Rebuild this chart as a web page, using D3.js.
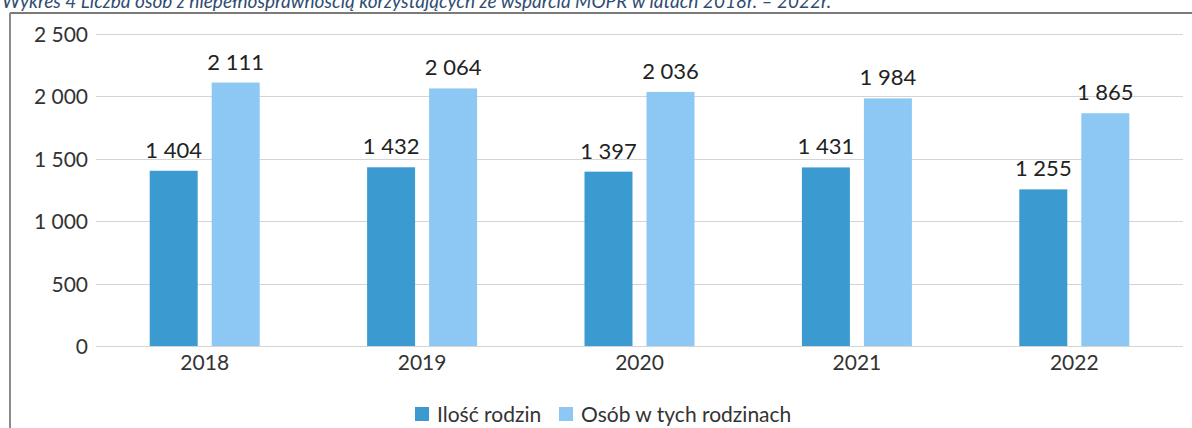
<!DOCTYPE html>
<html>
<head>
<meta charset="utf-8">
<script src="https://cdn.jsdelivr.net/npm/d3@7"></script>
<style>
  html, body { margin: 0; padding: 0; background: #fff; }
  svg { display: block; }
</style>
</head>
<body>
<svg id="chart" width="1192" height="428"></svg>
<script>
const titleText = "Wykres 4 Liczba osób z niepełnosprawnością korzystających ze wsparcia MOPR w latach 2018r. – 2022r.";
const years = ["2018", "2019", "2020", "2021", "2022"];
const seriesNames = ["Ilość rodzin", "Osób w tych rodzinach"];
const familiesValues = [1404, 1432, 1397, 1431, 1255];
const personsValues = [2111, 2064, 2036, 1984, 1865];
const yTicks = [0, 500, 1000, 1500, 2000, 2500];
const seriesColors = ["#3b9bd1", "#8dc7f4"];

const fmt = v => d3.format(",")(v).replace(/,/g, "\u00a0");
const svg = d3.select("#chart");
const FONT = "Lato, 'Open Sans', sans-serif";

// frame
svg.append("line").attr("x1", 10).attr("x2", 1192).attr("y1", 13).attr("y2", 13)
  .attr("stroke", "#7a7a7a").attr("stroke-width", 2);
svg.append("line").attr("x1", 10).attr("x2", 10).attr("y1", 13).attr("y2", 428)
  .attr("stroke", "#8a8a8a").attr("stroke-width", 2);

// title (cut off by page top, as in the reference)
svg.append("text").attr("x", 2).attr("y", 8)
  .attr("font-family", FONT).attr("font-style", "italic").attr("font-size", 19)
  .attr("fill", "#2f4d73").text(titleText);

const x0 = d3.scaleBand().domain(years).range([96, 1183]);
const x1 = d3.scaleBand().domain(seriesNames).range([-55, 55]).paddingInner(0.226);
const y = d3.scaleLinear().domain([0, 2500]).range([346, 34]);

// gridlines
svg.append("g").selectAll("line").data(yTicks).join("line")
  .attr("x1", 96).attr("x2", 1183)
  .attr("y1", d => Math.round(y(d)) + 0.5).attr("y2", d => Math.round(y(d)) + 0.5)
  .attr("stroke", "#d4d4d4").attr("stroke-width", 1);

// y axis labels
const yAxis = d3.axisLeft(y).tickValues(yTicks).tickSize(0).tickPadding(0).tickFormat(fmt);
const yg = svg.append("g").attr("transform", "translate(88,0)").call(yAxis);
yg.select(".domain").remove();
yg.selectAll("text").attr("font-family", FONT).attr("font-size", 21).attr("fill", "#333").attr("dy", "0.36em");

// x axis labels
const xAxis = d3.axisBottom(x0).tickSize(0).tickPadding(0);
const xg = svg.append("g").attr("transform", "translate(0,355)").call(xAxis);
xg.select(".domain").remove();
xg.selectAll("text").attr("font-family", FONT).attr("font-size", 21).attr("fill", "#333").attr("dy", "0.72em");

const data = years.map((yr, i) => ({ year: yr, vals: [familiesValues[i], personsValues[i]] }));

const groups = svg.append("g").selectAll("g").data(data).join("g")
  .attr("transform", d => `translate(${x0(d.year) + x0.bandwidth() / 2},0)`);

groups.selectAll("rect").data(d => d.vals.map((v, j) => ({ v, s: seriesNames[j], j }))).join("rect")
  .attr("x", d => x1(d.s)).attr("width", x1.bandwidth())
  .attr("y", d => y(d.v)).attr("height", d => y(0) - y(d.v))
  .attr("fill", d => seriesColors[d.j]);

groups.selectAll("text.val").data(d => d.vals.map((v, j) => ({ v, s: seriesNames[j], j }))).join("text")
  .attr("class", "val")
  .attr("x", d => x1(d.s) + x1.bandwidth() / 2).attr("y", d => y(d.v) - 13)
  .attr("text-anchor", "middle").attr("font-family", FONT).attr("font-size", 22).attr("fill", "#222")
  .text(d => fmt(d.v));

// legend
const legend = svg.append("g");
const legendItems = [{ name: seriesNames[0], x: 415 }, { name: seriesNames[1], x: 559 }];
legendItems.forEach((it, j) => {
  legend.append("rect").attr("x", it.x).attr("y", 407).attr("width", 14).attr("height", 14).attr("fill", seriesColors[j]);
  legend.append("text").attr("x", it.x + 22).attr("y", 422)
    .attr("font-family", FONT).attr("font-size", 21).attr("fill", "#333").text(it.name);
});
</script>
</body>
</html>
